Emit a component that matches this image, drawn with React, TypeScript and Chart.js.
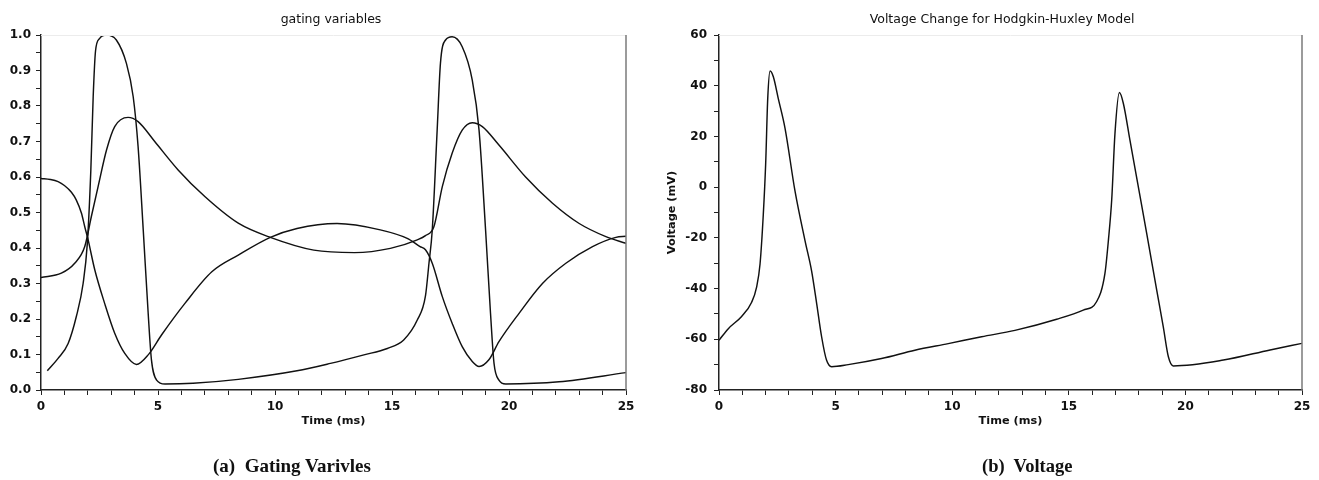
import React, { useEffect, useRef } from "react";
import { Chart, registerables } from "chart.js";
Chart.register(...registerables);

// ---------- texts ----------
const gatingTitle = "gating variables";
const voltageTitle = "Voltage Change for Hodgkin-Huxley Model";
const timeLabel = "Time (ms)";
const voltageLabel = "Voltage (mV)";
const captionA = "(a)  Gating Varivles";
const captionB = "(b)  Voltage";

// ---------- gating variables ----------
const mTime = [0.27, 0.73, 1.16, 1.51, 1.8, 1.98, 2.13, 2.23, 2.33, 2.5, 2.8, 3.22, 3.65, 3.94, 4.15, 4.37, 4.58, 4.72, 4.94, 5.3, 6.5, 8.43, 10.94, 12.37, 13.8, 14.8, 15.5, 16.08, 16.43, 16.58, 16.72, 16.93, 17.07, 17.29, 17.57, 18.0, 18.43, 18.72, 19.0, 19.21, 19.36, 19.57, 19.86, 22.14, 25.0];
const mValues = [0.054, 0.089, 0.131, 0.207, 0.3, 0.413, 0.62, 0.826, 0.955, 0.99, 1.0, 0.986, 0.92, 0.826, 0.685, 0.45, 0.216, 0.085, 0.028, 0.017, 0.019, 0.03, 0.054, 0.075, 0.099, 0.117, 0.141, 0.197, 0.265, 0.357, 0.45, 0.732, 0.92, 0.986, 0.995, 0.967, 0.873, 0.732, 0.45, 0.216, 0.075, 0.028, 0.017, 0.023, 0.049];

const hTime = [0, 0.4, 0.73, 1.0, 1.3, 1.51, 1.73, 1.87, 2.0, 2.3, 2.72, 3.15, 3.58, 4.08, 4.58, 5.15, 6.15, 7.3, 8.43, 9.8, 10.94, 12.65, 14.5, 15.65, 16.2, 16.43, 16.72, 17.15, 17.57, 18.0, 18.43, 18.72, 19.14, 19.57, 20.43, 21.43, 22.43, 23.57, 24.57, 25.0];
const hValues = [0.596, 0.593, 0.587, 0.576, 0.557, 0.535, 0.498, 0.46, 0.427, 0.338, 0.244, 0.16, 0.103, 0.072, 0.099, 0.155, 0.244, 0.333, 0.38, 0.43, 0.455, 0.469, 0.451, 0.427, 0.404, 0.395, 0.357, 0.263, 0.188, 0.122, 0.08, 0.066, 0.085, 0.136, 0.216, 0.3, 0.357, 0.404, 0.43, 0.433];

const nTime = [0, 0.87, 1.44, 1.87, 2.15, 2.44, 2.8, 3.15, 3.72, 4.15, 4.86, 5.86, 7.0, 8.43, 9.8, 11.66, 13.4, 14.93, 16.08, 16.43, 16.79, 17.15, 17.57, 18.0, 18.43, 18.86, 19.57, 20.71, 21.86, 23.0, 24.14, 25.0];
const nValues = [0.317, 0.329, 0.357, 0.404, 0.488, 0.573, 0.676, 0.742, 0.768, 0.756, 0.7, 0.62, 0.545, 0.47, 0.43, 0.394, 0.387, 0.399, 0.423, 0.435, 0.46, 0.573, 0.667, 0.732, 0.753, 0.742, 0.69, 0.6, 0.526, 0.469, 0.432, 0.413];

// ---------- membrane voltage (mV) ----------
const vTime = [0, 0.4, 0.97, 1.4, 1.61, 1.76, 1.9, 2.0, 2.09, 2.19, 2.33, 2.54, 2.83, 3.26, 3.69, 3.97, 4.19, 4.4, 4.61, 4.83, 5.54, 6.97, 8.4, 9.83, 11.26, 12.69, 14.48, 15.62, 16.19, 16.55, 16.7, 16.84, 16.98, 17.17, 17.34, 17.62, 17.98, 18.34, 18.77, 19.05, 19.27, 19.48, 21.63, 23.63, 25.0];
const vValues = [-60.4, -55.8, -51, -45.4, -39.5, -30.3, -10.7, 8.9, 35, 45.8, 43.5, 35, 23.3, -1.6, -21.2, -33, -46, -59, -68.2, -70.8, -70, -67.6, -64.3, -61.7, -59, -56.5, -52.1, -48.5, -45.2, -34, -20.8, -5, 21.2, 37.3, 33, 18.6, 0.2, -18.2, -40.6, -55, -66.9, -70.5, -68.2, -64.2, -61.6];

// ---------- axes ----------
const timeMin = 0;
const timeMax = 25;
const timeMinorStep = 1;
const timeMajorStep = 5;
const gateMin = 0;
const gateMax = 1;
const gateMinorStep = 0.05;
const gateMajorStep = 0.1;
const voltMin = -80;
const voltMax = 60;
const voltMinorStep = 10;
const voltMajorStep = 20;

const pairs = (xs: number[], ys: number[]) => xs.map((x, i) => ({ x, y: ys[i] }));

const isMultiple = (v: number, step: number) => {
  const r = v / step;
  return Math.abs(r - Math.round(r)) < 1e-6;
};

const FAMILY = "'DejaVu Sans', sans-serif";
const tickFont = { family: FAMILY, size: 12, weight: "bold" as const };
const axisTitleFont = { family: FAMILY, size: 11.3, weight: "bold" as const };

const framePlugin = {
  id: "frame",
  afterDatasetsDraw(chart: any) {
    const { ctx, chartArea } = chart;
    const { left, right, top, bottom } = chartArea;
    ctx.save();
    ctx.lineWidth = 1;
    ctx.strokeStyle = "#ececec";
    ctx.beginPath();
    ctx.moveTo(left, top + 0.5);
    ctx.lineTo(right, top + 0.5);
    ctx.stroke();
    ctx.strokeStyle = "#7a7a7a";
    ctx.lineWidth = 1.5;
    ctx.beginPath();
    ctx.moveTo(right, top);
    ctx.lineTo(right, bottom);
    ctx.stroke();
    ctx.restore();
  },
};

// title drawn above the plot area, centred on the plot (with small shift)
const titlePlugin = {
  id: "plotTitle",
  afterDraw(chart: any, _args: any, opts: any) {
    const { ctx, chartArea } = chart;
    ctx.save();
    ctx.font = `normal 12.5px ${FAMILY}`;
    ctx.fillStyle = "#111";
    ctx.textAlign = "center";
    ctx.textBaseline = "middle";
    ctx.fillText(opts.text, (chartArea.left + chartArea.right) / 2 + (opts.shift || 0), chartArea.top - 15.5);
    ctx.restore();
  },
};

function lineDataset(data: { x: number; y: number }[]) {
  return {
    data,
    borderColor: "#111",
    borderWidth: 1.45,
    pointRadius: 0,
    fill: false,
    cubicInterpolationMode: "monotone" as const,
  };
}

interface Cfg {
  datasets: any[];
  title: string;
  titleShift: number;
  yMin: number;
  yMax: number;
  yMinor: number;
  yMajor: number;
  yFormat: (v: number) => string;
  yTitle?: string;
  yWidth: number;
  yTickPad: number;
  padRight: number;
}

function buildOptions(c: Cfg) {
  return {
    responsive: false,
    animation: false as const,
    layout: { padding: { top: 35, left: 0, right: c.padRight, bottom: 0 } },
    plugins: {
      legend: { display: false },
      tooltip: { enabled: false },
      title: { display: false },
      plotTitle: { text: c.title, shift: c.titleShift },
    },
    scales: {
      x: {
        type: "linear" as const,
        min: timeMin,
        max: timeMax,
        afterFit: (s: any) => {
          s.height = 90;
        },
        border: { display: true, color: "#222", width: 1.5 },
        grid: { display: true, drawOnChartArea: false, drawTicks: true, tickLength: 5, color: "#222", tickWidth: 1 },
        ticks: {
          stepSize: timeMinorStep,
          autoSkip: false,
          maxRotation: 0,
          padding: 5,
          color: "#111",
          font: tickFont,
          callback: (v: any) => (isMultiple(Number(v), timeMajorStep) ? String(Math.round(Number(v))) : ""),
        },
        title: {
          display: true,
          text: timeLabel,
          color: "#111",
          font: axisTitleFont,
          padding: { top: 0, bottom: 52 },
        },
      },
      y: {
        type: "linear" as const,
        min: c.yMin,
        max: c.yMax,
        afterFit: (s: any) => {
          s.width = c.yWidth;
        },
        border: { display: true, color: "#222", width: 1.5 },
        grid: { display: true, drawOnChartArea: false, drawTicks: true, tickLength: 5, color: "#222", tickWidth: 1 },
        ticks: {
          stepSize: c.yMinor,
          autoSkip: false,
          padding: c.yTickPad,
          color: "#111",
          font: tickFont,
          callback: (v: any) => (isMultiple(Number(v), c.yMajor) ? c.yFormat(Number(v)) : ""),
        },
        title: {
          display: !!c.yTitle,
          text: c.yTitle || "",
          color: "#111",
          font: axisTitleFont,
          padding: { top: 5.4, bottom: 0 },
        },
      },
    },
  };
}

function ChartCanvas({ cfg, width, height }: { cfg: Cfg; width: number; height: number }) {
  const ref = useRef<HTMLCanvasElement | null>(null);
  useEffect(() => {
    if (!ref.current) return;
    const chart = new Chart(ref.current, {
      type: "line",
      data: { datasets: cfg.datasets },
      options: buildOptions(cfg) as any,
      plugins: [framePlugin, titlePlugin],
    });
    return () => chart.destroy();
  }, []);
  return <canvas ref={ref} width={width} height={height} style={{ width, height, display: "block" }} />;
}

const gatingCfg: Cfg = {
  datasets: [lineDataset(pairs(mTime, mValues)), lineDataset(pairs(hTime, hValues)), lineDataset(pairs(nTime, nValues))],
  title: gatingTitle,
  titleShift: -2.5,
  yMin: gateMin,
  yMax: gateMax,
  yMinor: gateMinorStep,
  yMajor: gateMajorStep,
  yFormat: (v) => v.toFixed(1),
  yWidth: 41,
  yTickPad: 5,
  padRight: 34,
};

const voltageCfg: Cfg = {
  datasets: [lineDataset(pairs(vTime, vValues))],
  title: voltageTitle,
  titleShift: -8.5,
  yMin: voltMin,
  yMax: voltMax,
  yMinor: voltMinorStep,
  yMajor: voltMajorStep,
  yFormat: (v) => String(Math.round(v)),
  yTitle: voltageLabel,
  yWidth: 59,
  yTickPad: 7,
  padRight: 17,
};

const captionStyle: React.CSSProperties = {
  position: "absolute",
  top: 455,
  fontFamily: "'Liberation Serif', 'Times New Roman', serif",
  fontWeight: "bold",
  lineHeight: "22px",
  whiteSpace: "pre",
  color: "#111",
};

export default function App() {
  return (
    <div style={{ position: "absolute", left: 0, top: 0, width: 1319, height: 480, background: "#fff", overflow: "hidden" }}>
      <div style={{ position: "absolute", left: 0, top: 0 }}>
        <ChartCanvas cfg={gatingCfg} width={660} height={480} />
      </div>
      <div style={{ position: "absolute", left: 660, top: 0 }}>
        <ChartCanvas cfg={voltageCfg} width={659} height={480} />
      </div>
      <div style={{ ...captionStyle, left: 213, fontSize: 19 }}>{captionA}</div>
      <div style={{ ...captionStyle, left: 982, fontSize: 18.5 }}>{captionB}</div>
    </div>
  );
}
